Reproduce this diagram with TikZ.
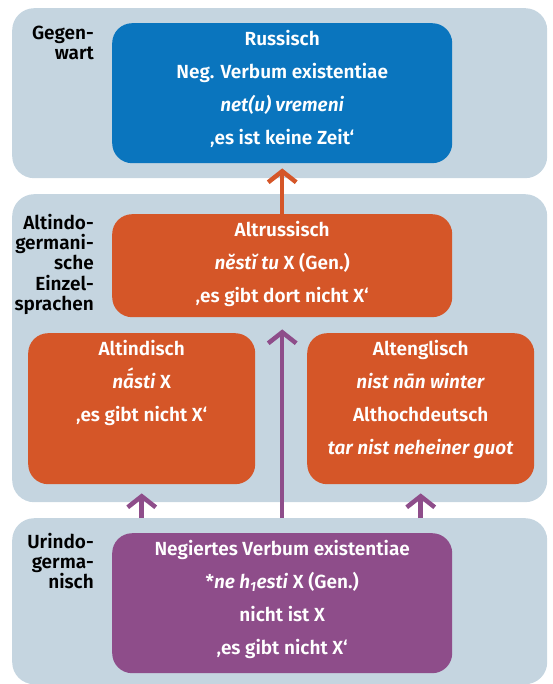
\documentclass[tikz,border=0pt]{standalone}
\usepackage{fontspec}
\setmainfont{Fira Sans}[BoldFont={Fira Sans SemiBold}, BoldItalicFont={Fira Sans SemiBold Italic}]
\usetikzlibrary{arrows.meta,calc}
\definecolor{bandc}{HTML}{C5D5E0}
\definecolor{blueb}{HTML}{0A75BE}
\definecolor{orangeb}{HTML}{D55628}
\definecolor{purpleb}{HTML}{8E4D8A}
\tikzset{
  band/.style={fill=bandc, rounded corners=22pt, anchor=north west, inner sep=0pt},
  box/.style={rounded corners=20pt, anchor=north west, inner sep=0pt},
  boxtext/.style={anchor=north, inner sep=0pt, align=center, text=white,
    font=\bfseries\fontsize{19}{33}\selectfont},
  sidelabel/.style={anchor=north east, inner sep=0pt, align=right, text=black,
    font=\bfseries\fontsize{19}{20.3}\selectfont},
  uparrow/.style={line width=4.5pt, -{Straight Barb[length=11pt,width=28pt]}},
}
\begin{document}
\begin{tikzpicture}[x=1pt,y=-1pt]
\useasboundingbox (0,0) rectangle (553,684);
% bands
\node[band, minimum width=535pt, minimum height=170pt] (band1) at (12,8) {};
\node[band, minimum width=535pt, minimum height=308pt] (band2) at (12,194) {};
\node[band, minimum width=535pt, minimum height=166pt] (band3) at (12,518) {};
% side labels
\node[sidelabel] (lab1) at (94,20) {\rule{0pt}{19pt}Gegen-\\wart};
\node[sidelabel] (lab2) at (94,210) {\rule{0pt}{19pt}Altindo-\\germani-\\sche\\Einzel-\\sprachen};
\node[sidelabel] (lab3) at (94,529) {\rule{0pt}{19pt}Urindo-\\germa-\\nisch};
% boxes (shapes)
\node[box, fill=blueb, minimum width=340pt, minimum height=140pt] (russ) at (112,23) {};
\node[box, fill=orangeb, minimum width=340pt, minimum height=103pt] (altruss) at (112,214) {};
\node[box, fill=orangeb, minimum width=227pt, minimum height=151pt] (altind) at (28,333) {};
\node[box, fill=orangeb, minimum width=227pt, minimum height=151pt] (alteng) at (307,333) {};
% arrows
\draw[uparrow, draw=orangeb, shorten >=5pt] (altruss.north) -- (russ.south);
\draw[uparrow, draw=purpleb, shorten >=9pt] (band3.north -| altind.south) -- (altind.south);
\draw[uparrow, draw=purpleb, shorten >=9pt] (band3.north -| alteng.south) -- (alteng.south);
\draw[uparrow, draw=purpleb, shorten >=12pt] (band3.north -| altruss.south) -- (altruss.south);
\node[box, fill=purpleb, minimum width=340pt, minimum height=140pt] (urie) at (112,533) {};
% texts
\node[boxtext] (russt) at (russ.north) {\rule{0pt}{22pt}Russisch\\Neg. Verbum existentiae\\\textit{net(u) vremeni}\\‚es ist keine Zeit‘};
\node[boxtext] (altrusst) at (altruss.north) {\rule{0pt}{22pt}Altrussisch\\\textit{nĕstĭ tu} X (Gen.)\\‚es gibt dort nicht X‘};
\node[boxtext] (altindt) at (altind.north) {\rule{0pt}{22pt}Altindisch\\\textit{nā́sti} X\\‚es gibt nicht X‘};
\node[boxtext] (altengt) at (alteng.north) {\rule{0pt}{22pt}Altenglisch\\\textit{nist nān winter}\\Althochdeutsch\\\textit{tar nist neheiner guot}};
\node[boxtext] (uriet) at (urie.north) {\rule{0pt}{22pt}Negiertes Verbum existentiae\\*\textit{ne h\textsubscript{1}esti} X (Gen.)\\nicht ist X\\‚es gibt nicht X‘};
\end{tikzpicture}
\end{document}
